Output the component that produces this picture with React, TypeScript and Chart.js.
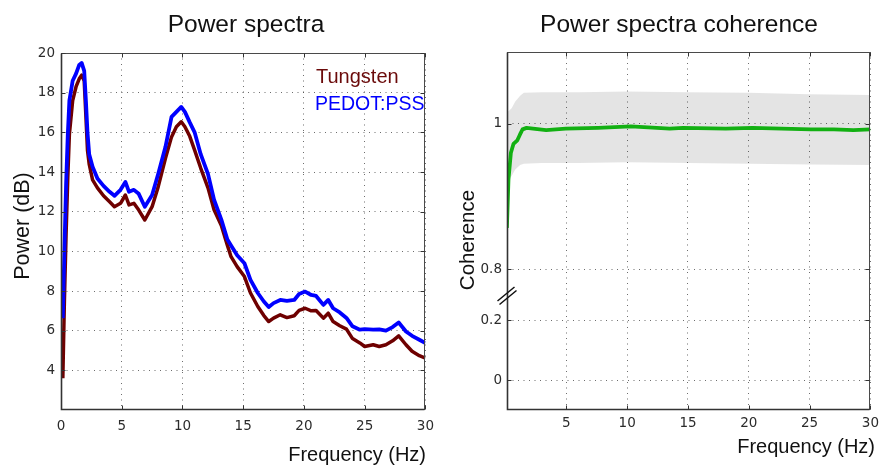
import React, { useEffect, useRef } from 'react';
import { Chart, registerables } from 'chart.js';

Chart.register(...registerables);

// ---------- Data: Power spectra ----------
const psFreq = [0.15, 0.28, 0.42, 0.56, 0.69, 0.96, 1.24, 1.5, 1.7, 1.91, 2.05, 2.18, 2.32, 2.6, 3.0, 3.5, 4.0, 4.4, 4.9, 5.3, 5.6, 6.0, 6.4, 6.9, 7.5, 8.0, 8.6, 9.1, 9.5, 9.9, 10.2, 10.6, 11.0, 11.5, 12.1, 12.6, 13.2, 13.7, 14.0, 14.5, 15.1, 15.6, 16.2, 16.7, 17.1, 17.5, 18.05, 18.6, 19.2, 19.6, 20.1, 20.6, 21.0, 21.6, 22.0, 22.4, 22.95, 23.5, 24.0, 24.6, 25.0, 25.7, 26.2, 26.75, 27.3, 27.8, 28.4, 28.9, 29.5, 30];
const pedot = [6.63, 10.07, 13.4, 15.9, 17.6, 18.6, 18.96, 19.4, 19.5, 19.1, 17.6, 16.0, 14.9, 14.26, 13.67, 13.3, 13.0, 12.8, 13.1, 13.5, 13.0, 13.1, 12.9, 12.25, 12.84, 13.9, 15.27, 16.78, 17.03, 17.28, 17.03, 16.5, 16.0, 14.9, 13.9, 12.6, 11.6, 10.6, 10.3, 9.8, 9.4, 8.56, 7.9, 7.47, 7.19, 7.39, 7.55, 7.5, 7.55, 7.85, 7.97, 7.8, 7.75, 7.3, 7.55, 7.13, 6.92, 6.64, 6.22, 6.05, 6.08, 6.05, 6.07, 6.0, 6.18, 6.41, 5.96, 5.74, 5.54, 5.38];
const tungsten = [3.6, 7.5, 10.9, 13.76, 15.9, 17.6, 18.3, 18.7, 18.88, 18.6, 16.8, 15.1, 14.4, 13.6, 13.2, 12.8, 12.5, 12.25, 12.42, 12.84, 12.34, 12.42, 12.08, 11.58, 12.25, 13.25, 14.69, 15.77, 16.28, 16.53, 16.28, 15.8, 15.1, 14.2, 13.2, 12.1, 11.3, 10.3, 9.73, 9.23, 8.73, 7.9, 7.22, 6.76, 6.46, 6.63, 6.8, 6.66, 6.75, 7.02, 7.13, 7.0, 7.02, 6.63, 6.88, 6.46, 6.25, 6.08, 5.6, 5.38, 5.2, 5.29, 5.2, 5.29, 5.49, 5.74, 5.29, 4.96, 4.74, 4.62];
const psYTicks = [4, 6, 8, 10, 12, 14, 16, 18, 20];
const psXTicks = [0, 5, 10, 15, 20, 25, 30];

// ---------- Data: Coherence ----------
const cohFreq = [0.11, 0.24, 0.44, 0.65, 0.97, 1.19, 1.4, 1.73, 2.26, 3.34, 4.95, 7.6, 10.3, 13.5, 14.6, 18.1, 20.3, 25.1, 27, 28.6, 30];
const coherence = [0.857, 0.923, 0.96, 0.972, 0.977, 0.985, 0.992, 0.994, 0.993, 0.991, 0.993, 0.994, 0.996, 0.993, 0.994, 0.993, 0.994, 0.992, 0.992, 0.991, 0.992];
const bandFreq = [0.18, 0.5, 0.8, 1.2, 1.5, 3, 6, 10, 15, 20, 25, 30];
const bandUpper = [1.016, 1.021, 1.03, 1.038, 1.042, 1.043, 1.043, 1.044, 1.043, 1.042, 1.04, 1.039];
const bandLower = [0.922, 0.928, 0.937, 0.943, 0.945, 0.946, 0.946, 0.947, 0.946, 0.945, 0.944, 0.943];
const cohXTicks = [5, 10, 15, 20, 25, 30];
const cohTopTicks = [0.8, 1];
const cohBottomTicks = [0, 0.2];

const TEXT_FONT = "'Liberation Sans', Arial, Helvetica, sans-serif";
const TICK_FONT = { family: "'DejaVu Sans', sans-serif", size: 13.5 };
const TICK_COLOR = '#2b2b2b';
const GRID = { color: 'rgba(60,60,60,0.75)', lineWidth: 1, drawTicks: false };
const GRID_BORDER = { display: false, dash: [1, 4.5] };

type TextItem = { text: string; x: number; y: number; size: number; color: string; align?: CanvasTextAlign; rotate?: boolean };

function pts(xs: number[], ys: number[]) {
  return xs.map((x, i) => ({ x, y: ys[i] }));
}

function setTicks(values: number[]) {
  return (scale: any) => {
    scale.ticks = values.map((v) => ({ value: v }));
  };
}

const plainLabel = (v: any) => String(Math.round(Number(v) * 100) / 100);

function decorPlugin(id: string, texts: TextItem[], xTicks: number[], yTickSets: { scaleId: string; values: number[] }[], breakMark: boolean) {
  return {
    id,
    afterDraw(chart: any) {
      const { ctx, chartArea: a, scales } = chart;
      ctx.save();
      const L = Math.round(a.left) + 0.5;
      const R = Math.round(a.right) - 0.5;
      const T = Math.round(a.top) + 0.5;
      const B = Math.round(a.bottom) - 0.5;
      // frame
      ctx.strokeStyle = '#4a4a4a';
      ctx.lineWidth = 1;
      ctx.strokeRect(L, T, R - L, B - T);
      ctx.strokeStyle = '#333';
      ctx.lineWidth = 1.6;
      ctx.beginPath();
      ctx.moveTo(L, T);
      ctx.lineTo(L, B);
      ctx.lineTo(R, B);
      ctx.stroke();
      // inward ticks
      ctx.strokeStyle = '#333';
      ctx.lineWidth = 1;
      ctx.beginPath();
      for (const v of xTicks) {
        const px = Math.round(scales.x.getPixelForValue(v)) + 0.5;
        ctx.moveTo(px, T);
        ctx.lineTo(px, T + 4);
        ctx.moveTo(px, B);
        ctx.lineTo(px, B - 4);
      }
      for (const s of yTickSets) {
        for (const v of s.values) {
          const py = Math.round(scales[s.scaleId].getPixelForValue(v)) + 0.5;
          ctx.moveTo(L, py);
          ctx.lineTo(L + 4, py);
          ctx.moveTo(R, py);
          ctx.lineTo(R - 4, py);
        }
      }
      ctx.stroke();
      if (breakMark) {
        const by = scales.yTop.bottom;
        ctx.strokeStyle = '#111';
        ctx.lineWidth = 1.5;
        ctx.beginPath();
        ctx.moveTo(L - 10, by + 6);
        ctx.lineTo(L + 7, by - 8);
        ctx.moveTo(L - 8, by + 9.5);
        ctx.lineTo(L + 9, by - 4.5);
        ctx.stroke();
      }
      // texts
      for (const t of texts) {
        ctx.font = `${t.size}px ${TEXT_FONT}`;
        ctx.fillStyle = t.color;
        ctx.textAlign = t.align || 'left';
        ctx.textBaseline = 'alphabetic';
        if (t.rotate) {
          ctx.save();
          ctx.translate(t.x, t.y);
          ctx.rotate(-Math.PI / 2);
          ctx.fillText(t.text, 0, 0);
          ctx.restore();
        } else {
          ctx.fillText(t.text, t.x, t.y);
        }
      }
      ctx.restore();
    },
  };
}

export default function App() {
  const leftRef = useRef<HTMLCanvasElement | null>(null);
  const rightRef = useRef<HTMLCanvasElement | null>(null);

  useEffect(() => {
    if (!leftRef.current || !rightRef.current) return;

    const leftTexts: TextItem[] = [
      { text: 'Power spectra', x: 246, y: 32, size: 24.5, color: '#111', align: 'center' },
      { text: 'Frequency (Hz)', x: 426, y: 461, size: 20, color: '#111', align: 'right' },
      { text: 'Power (dB)', x: 28.5, y: 226, size: 21.5, color: '#111', align: 'center', rotate: true },
      { text: 'Tungsten', x: 316, y: 82.5, size: 20, color: '#6b0a0a' },
      { text: 'PEDOT:PSS', x: 315, y: 110, size: 19.5, color: '#0000ff' },
    ];

    const left = new Chart(leftRef.current, {
      type: 'line',
      data: {
        datasets: [
          { label: 'PEDOT:PSS', data: pts(psFreq, pedot), borderColor: '#0000ff', borderWidth: 3.8, pointRadius: 0, fill: false },
          { label: 'Tungsten', data: pts(psFreq, tungsten), borderColor: '#6e0000', borderWidth: 3.5, pointRadius: 0, fill: false },
        ],
      },
      options: {
        animation: false,
        responsive: false,
        maintainAspectRatio: false,
        layout: { padding: { left: 0, right: 12, top: 53, bottom: 0 } },
        plugins: { legend: { display: false }, tooltip: { enabled: false }, title: { display: false } },
        elements: { line: { tension: 0, borderJoinStyle: 'round', borderCapStyle: 'butt' } },
        scales: {
          x: {
            type: 'linear',
            min: 0,
            max: 30,
            afterBuildTicks: setTicks(psXTicks),
            afterFit: (s: any) => { s.height = 59; },
            grid: GRID,
            border: GRID_BORDER,
            ticks: { font: TICK_FONT, color: TICK_COLOR, padding: 8, maxRotation: 0, autoSkip: false, callback: plainLabel },
          },
          y: {
            type: 'linear',
            min: 2,
            max: 20,
            afterBuildTicks: setTicks(psYTicks),
            afterFit: (s: any) => { s.width = 61; },
            grid: GRID,
            border: GRID_BORDER,
            ticks: { font: TICK_FONT, color: TICK_COLOR, padding: 6, callback: plainLabel },
          },
        },
      } as any,
      plugins: [decorPlugin('decorLeft', leftTexts, psXTicks, [{ scaleId: 'y', values: psYTicks }], false)],
    });

    const rightTexts: TextItem[] = [
      { text: 'Power spectra coherence', x: 237, y: 32, size: 24.5, color: '#111', align: 'center' },
      { text: 'Frequency (Hz)', x: 433, y: 452.5, size: 20, color: '#111', align: 'right' },
      { text: 'Coherence', x: 31.5, y: 240, size: 20.5, color: '#111', align: 'center', rotate: true },
    ];

    const right = new Chart(rightRef.current, {
      type: 'line',
      data: {
        datasets: [
          { label: 'Coherence', data: pts(cohFreq, coherence), yAxisID: 'yTop', borderColor: '#12b012', borderWidth: 3.8, pointRadius: 0, fill: false },
          { label: 'Upper', data: pts(bandFreq, bandUpper), yAxisID: 'yTop', borderWidth: 0, borderColor: 'rgba(0,0,0,0)', pointRadius: 0, fill: '+1', backgroundColor: 'rgba(0,0,0,0.105)' },
          { label: 'Lower', data: pts(bandFreq, bandLower), yAxisID: 'yTop', borderWidth: 0, borderColor: 'rgba(0,0,0,0)', pointRadius: 0, fill: false },
        ],
      },
      options: {
        animation: false,
        responsive: false,
        maintainAspectRatio: false,
        layout: { padding: { left: 0, right: 8, top: 52, bottom: 0 } },
        plugins: { legend: { display: false }, tooltip: { enabled: false }, title: { display: false }, filler: { propagate: false } },
        elements: { line: { tension: 0, borderJoinStyle: 'round' } },
        scales: {
          x: {
            type: 'linear',
            min: 0.12,
            max: 30,
            afterBuildTicks: setTicks(cohXTicks),
            afterFit: (s: any) => { s.height = 59; },
            grid: GRID,
            border: GRID_BORDER,
            ticks: { font: TICK_FONT, color: TICK_COLOR, padding: 5, maxRotation: 0, autoSkip: false, callback: plainLabel },
          },
          yBot: {
            type: 'linear',
            position: 'left',
            stack: 'coh',
            stackWeight: 115,
            min: -0.1,
            max: 0.284,
            afterBuildTicks: setTicks(cohBottomTicks),
            afterFit: (s: any) => { s.width = 65; },
            grid: GRID,
            border: GRID_BORDER,
            ticks: { font: TICK_FONT, color: TICK_COLOR, padding: 5, callback: plainLabel },
          },
          yTop: {
            type: 'linear',
            position: 'left',
            stack: 'coh',
            stackWeight: 243,
            min: 0.765,
            max: 1.098,
            afterBuildTicks: setTicks(cohTopTicks),
            afterFit: (s: any) => { s.width = 65; },
            grid: GRID,
            border: GRID_BORDER,
            ticks: { font: TICK_FONT, color: TICK_COLOR, padding: 5, callback: plainLabel },
          },
        },
      } as any,
      plugins: [decorPlugin('decorRight', rightTexts, cohXTicks, [{ scaleId: 'yTop', values: cohTopTicks }, { scaleId: 'yBot', values: cohBottomTicks }], true)],
    });

    return () => {
      left.destroy();
      right.destroy();
    };
  }, []);

  return (
    <div style={{ position: 'fixed', left: 0, top: 0, width: 884, height: 469, background: '#fff' }}>
      <canvas ref={leftRef} width={442} height={469} style={{ position: 'absolute', left: 0, top: 0, width: 442, height: 469 }} />
      <canvas ref={rightRef} width={442} height={469} style={{ position: 'absolute', left: 442, top: 0, width: 442, height: 469 }} />
    </div>
  );
}
